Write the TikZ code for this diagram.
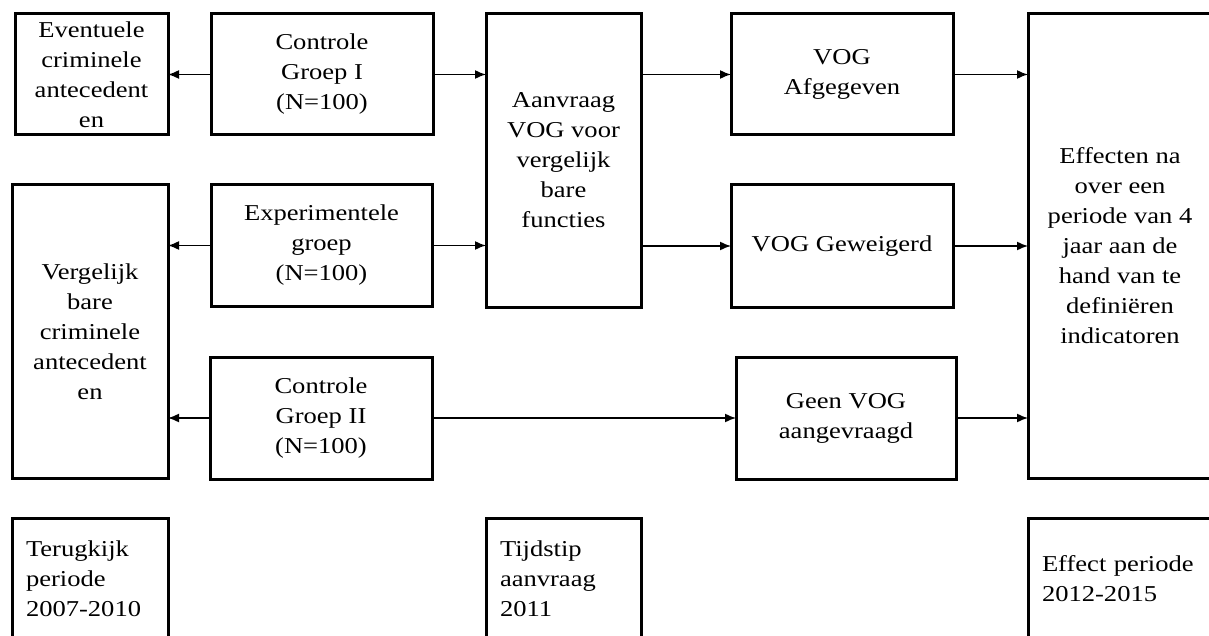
\documentclass[tikz,border=0pt]{standalone}
\usepackage{fontspec}
\setmainfont{Liberation Serif}[FakeStretch=1.17]
\usetikzlibrary{arrows.meta,positioning}

\begin{document}
\begin{tikzpicture}[-,x=1pt,y=-1pt,line width=1.5pt,
                    main node/.style={rectangle,draw,line width=3pt,inner sep=0pt,outer sep=0pt,
                      anchor=north west,align=center,minimum height=121pt,
                      font=\fontsize{22.7}{30}\selectfont},
                    time node/.style={main node,align=left,inner xsep=14pt}]

  \useasboundingbox (0,0) rectangle (1209,636);

  \node[main node,minimum width=153pt] (1) at (15,14) {Eventuele\\criminele\\antecedent\\en};
  \node[main node,minimum width=222pt] (2) at (211,14) {Controle\\Groep I\\(N=100)};
  \node[main node,minimum width=221pt] (3) at (211,185) {Experimentele\\groep\\(N=100)};
  \node[main node,minimum width=156pt,minimum height=293pt] (4) at (12,185) {Vergelijk\\bare\\criminele\\antecedent\\en};
  \node[main node,minimum width=222pt,minimum height=122pt] (5) at (210,357) {Controle\\Groep II\\(N=100)};
  \node[main node,minimum width=155pt,minimum height=293pt] (6) at (486,14) {Aanvraag\\VOG voor\\vergelijk\\bare\\functies};
  \node[main node,minimum width=222pt] (7) at (731,14) {VOG\\Afgegeven};
  \node[main node,minimum width=222pt,minimum height=122pt] (8) at (731,185) {VOG Geweigerd};
  \node[main node,minimum width=220pt,minimum height=122pt] (9) at (736,357) {Geen VOG\\aangevraagd};
  \node[main node,minimum width=184pt,minimum height=464pt] (10) at (1028,14) {Effecten na\\over een\\periode van 4\\jaar aan de\\hand van te\\definiëren\\indicatoren};
  \node[time node,text width=128pt] (11) at (12,518) {Terugkijk\\periode\\2007-2010};
  \node[time node,text width=127pt] (12) at (486,518) {Tijdstip\\aanvraag\\2011};
  \node[time node,text width=156pt] (13) at (1028,518) {Effect periode\\2012-2015};

  \path[-{Latex[length=11pt,width=9pt]}]
    (2) edge (1)
        edge (2 -| 6.west)
    (6.east |- 7) edge (7)
    (7) edge (7 -| 10.west)
    (3) edge (3 -| 4.east)
        edge (3 -| 6.west)
    (6.east |- 8) edge (8)
    (8) edge (8 -| 10.west)
    (5) edge (5 -| 4.east)
        edge (9)
    (9) edge (9 -| 10.west);
\end{tikzpicture}
\end{document}
